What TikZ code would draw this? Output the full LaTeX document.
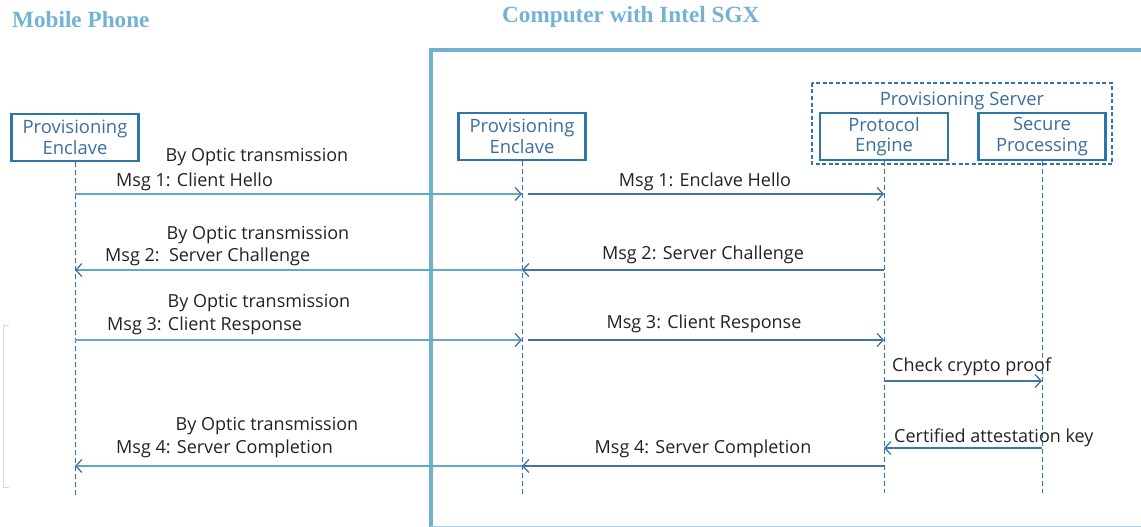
\documentclass[tikz,border=0pt]{standalone}
\usepackage{fontspec}
\setmainfont{Liberation Serif}
\newfontfamily\lbl{Open Sans}
\usetikzlibrary{arrows.meta}
\definecolor{titleblue}{HTML}{74B2D4}
\definecolor{frameblue}{HTML}{72B0D0}
\definecolor{boxblue}{HTML}{2F76A8}
\definecolor{boxtext}{HTML}{3A6E9C}
\definecolor{optblue}{HTML}{62A8CC}
\definecolor{darkarr}{HTML}{3F74A6}
\definecolor{txt}{HTML}{222222}
\begin{document}
\begin{tikzpicture}[x=1pt,y=-1pt,
  title/.style={font=\bfseries\fontsize{23.2}{26}\selectfont, text=titleblue, inner sep=0, anchor=west},
  actor/.style={draw=boxblue, line width=2.4pt, minimum width=127pt, minimum height=47pt, align=center, text=boxtext, font=\lbl\fontsize{18.4}{20.5}\selectfont, inner sep=0},
  life/.style={draw=boxblue, line width=0.8pt, dash pattern=on 5pt off 3pt},
  optic/.style={draw=optblue, line width=2pt, -{Straight Barb[length=6pt,width=13pt,line width=1.3pt,color=darkarr]}},
  msg/.style={draw=darkarr, line width=1.3pt, -{Straight Barb[length=6pt,width=13pt,line width=1.3pt]}},
  lab/.style={font=\lbl\fontsize{18}{20}\selectfont, text=txt, inner sep=0, yshift=-2pt},
]
\useasboundingbox (0,0) rectangle (1141,527);
% titles
\node[title] (tmob) at (12,20) {Mobile Phone};
\node[title] (tcomp) at (502,17) {Computer with Intel SGX};
% computer frame
\draw[frameblue, line width=4pt] (431,527) -- (431,50) -- (1143,50);
\draw[frameblue!60, line width=1pt] (431,526) -- (1141,526);
% faint bracket
\draw[black!15, line width=0.8pt] (9,325) -- (3,325) -- (3,487) -- (9,487);
% actors
\node[actor] (pe1) at (75,137.5) {Provisioning\\Enclave};
\node[actor] (pe2) at (522,136.5) {Provisioning\\Enclave};
\node[actor, minimum width=128pt] (pe) at (884,136.5) {Protocol\\Engine};
\node[actor, minimum width=127pt] (sp) at (1042,136.5) {Secure\\Processing};
\draw[boxblue, line width=2.4pt, dash pattern=on 4pt off 2.5pt] (812,83) rectangle (1112,164);
\node[lab, text=boxtext, font=\lbl\fontsize{18.4}{20}\selectfont] (ps) at (962,99) {Provisioning Server};
% lifeline ends
\coordinate (e1) at (75,495);
\coordinate (e2) at (522,495);
\coordinate (e3) at (884,493);
\coordinate (e4) at (1042,493);
\draw[life] (pe1.south) -- (e1);
\draw[life] (pe2.south) -- (e2);
\draw[life] (pe.south) -- (e3);
\draw[life] (sp.south) -- (e4);
% message levels
\coordinate (y1) at (0,194);
\coordinate (y2) at (0,270);
\coordinate (y3) at (0,340);
\coordinate (y4) at (0,381);
\coordinate (y5) at (0,448);
\coordinate (y6) at (0,466);
% Msg 1
\draw[optic] (pe1 |- y1) -- (pe2 |- y1);
\draw[msg] ([xshift=6pt]pe2 |- y1) -- (pe |- y1);
\node[lab] (o1) at (257,155) {By Optic transmission};
\node[lab, anchor=west] (l1a) at (116,180) {Msg 1: Client Hello};
\node[lab] (l1b) at (705,180) {Msg 1: Enclave Hello};
% Msg 2
\draw[msg] (pe |- y2) -- (pe2 |- y2);
\draw[optic] (pe2 |- y2) -- (pe1 |- y2);
\node[lab] (o2) at (258,233) {By Optic transmission};
\node[lab, anchor=west] (l2a) at (105,255) {Msg 2:\ \ Server Challenge};
\node[lab] (l2b) at (703,253) {Msg 2: Server Challenge};
% Msg 3
\draw[optic] (pe1 |- y3) -- (pe2 |- y3);
\draw[msg] ([xshift=6pt]pe2 |- y3) -- (pe |- y3);
\node[lab] (o3) at (259,301) {By Optic transmission};
\node[lab, anchor=west] (l3a) at (107,324) {Msg 3: Client Response};
\node[lab] (l3b) at (704,322) {Msg 3: Client Response};
% check crypto proof
\draw[msg] (pe |- y4) -- (sp |- y4);
\node[lab, anchor=west] (l4) at (892,365) {Check crypto proof};
% certified key
\draw[msg] (sp |- y5) -- (pe |- y5);
\node[lab, anchor=west] (l5) at (894,436) {Certified attestation key};
% Msg 4
\draw[msg] (pe |- y6) -- (pe2 |- y6);
\draw[optic] (pe2 |- y6) -- (pe1 |- y6);
\node[lab] (o4) at (267,424) {By Optic transmission};
\node[lab, anchor=west] (l6a) at (116,447) {Msg 4: Server Completion};
\node[lab] (l6b) at (703,447) {Msg 4: Server Completion};
\end{tikzpicture}
\end{document}
